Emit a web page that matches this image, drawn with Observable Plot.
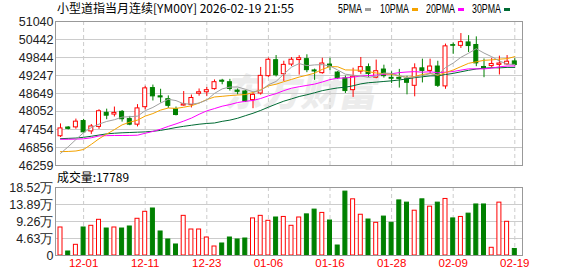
<!DOCTYPE html>
<html><head><meta charset="utf-8">
<script src="https://cdn.jsdelivr.net/npm/d3@7"></script>
<script src="https://cdn.jsdelivr.net/npm/@observablehq/plot@0.6"></script>
<style>
html,body{margin:0;padding:0;background:#fff;}
#wrap{position:relative;width:578px;height:276px;overflow:hidden;background:#fff;}
#wrap > svg{position:absolute;left:0;top:0;}
</style></head><body><div id="wrap"></div>
<script>
const dates = ["11-26","11-27","11-28","12-01","12-02","12-03","12-04","12-05","12-08","12-09",
"12-10","12-11","12-12","12-15","12-16","12-17","12-18","12-19","12-22","12-23",
"12-24","12-26","12-29","12-30","12-31","01-02","01-05","01-06","01-07","01-08",
"01-09","01-12","01-13","01-14","01-15","01-16","01-19","01-20","01-21","01-22",
"01-23","01-26","01-27","01-28","01-29","01-30","02-02","02-03","02-04","02-05",
"02-06","02-09","02-10","02-11","02-12","02-13","02-16","02-17","02-18","02-19"];
const opens = [47230,47520,47525,47735,47390,47540,48008,47950,48040,47800,
47615,48195,48830,48555,48460,48125,48250,48270,48640,48690,
48795,49075,49025,48745,48715,48430,48650,49225,49755,49290,
49610,49760,49790,49415,49325,49610,49345,49150,48760,49375,
49525,49175,49445,49170,49170,49120,48905,49485,49400,49545,
48885,50255,50232,50345,50260,49530,49560,49600,49615,49715];
const highs = [47640,47550,47800,47790,47620,48110,48130,48200,48085,47890,
48280,48890,48930,48790,48570,48200,48715,48600,48800,48850,
49100,49120,49120,48800,48755,48660,49515,49825,49910,49720,
49840,49905,49935,49460,49820,49820,49380,49230,49490,49845,
49630,49760,49590,49370,49450,49220,49635,49790,49790,49720,
50290,50325,50640,50570,50530,49795,49815,49890,49910,49805];
const lows = [47190,47440,47465,47330,47290,47460,47780,47870,47700,47580,
47540,48100,48400,48335,48155,47905,48230,48170,48560,48545,
48760,48940,48730,48605,48355,48145,48595,49185,49200,49050,
49545,49260,49340,49085,49290,49410,49115,48650,48520,49285,
49185,49140,49160,48980,48830,48605,48540,49000,49275,48850,
48790,49950,50145,50010,49540,49175,49500,49265,49580,49560];
const closes = [47490,47475,47715,47360,47555,48060,47913,48005,47795,47615,
48155,48820,48555,48520,48240,47935,48290,48500,48690,48760,
49025,49040,48800,48705,48385,48605,49235,49770,49255,49600,
49770,49820,49425,49380,49645,49540,49160,48730,49205,49525,
49300,49390,49225,49140,49135,49005,49485,49400,49545,48905,
50215,50235,50355,50225,49650,49495,49630,49645,49705,49595];
// volume in 万 (10k contracts)
const volumes = [7.63,1.09,2.91,7.63,8.09,9.72,7.35,7.63,7.35,7.90,
10.0,11.9,12.8,6.54,4.36,3.00,10.8,7.08,7.08,4.90,
2.45,3.27,4.90,4.36,4.63,10.1,10.8,9.45,10.35,10.5,
8.09,10.35,11.2,12.5,11.6,9.53,2.72,17.4,15.3,11.1,
9.8,8.9,10.6,8.9,15.0,14.4,12.2,15.3,13.3,14.4,
15.4,10.1,10.5,11.4,13.9,13.9,2.10,14.4,9.18,1.7789];
const ma5 = [46660,46880,47120,47350,47519,47633,47721,47779,47866,47878,
47897,48078,48188,48333,48458,48414,48308,48297,48331,48435,
48653,48803,48863,48866,48791,48707,48746,48940,49050,49293,
49526,49643,49574,49599,49608,49562,49430,49291,49256,49232,
49184,49230,49329,49316,49238,49179,49198,49233,49314,49268,
49510,49660,49851,49987,50136,49992,49871,49729,49625,49614];
const ma10 = [46720,46725,46740,46790,46960,47147,47301,47450,47608,47698,
47765,47899,47983,48099,48168,48155,48194,48243,48333,48447,
48534,48556,48581,48599,48614,48681,48775,48902,48958,49042,
49117,49195,49257,49325,49451,49544,49537,49432,49428,49420,
49373,49330,49310,49286,49235,49182,49214,49281,49315,49253,
49345,49429,49542,49651,49702,49751,49766,49790,49806,49875];
const ma20 = [47130,47130,47135,47145,47180,47240,47250,47255,47255,47258,
47265,47330,47390,47465,47558,47641,47733,47832,47960,48073,
48149,48228,48282,48349,48391,48418,48484,48572,48645,48745,
48825,48875,48919,48962,49032,49112,49156,49167,49193,49231,
49245,49262,49284,49305,49343,49363,49375,49357,49371,49337,
49359,49380,49426,49468,49469,49466,49490,49536,49561,49564];
const ma30 = [47150,47160,47170,47195,47230,47270,47310,47330,47345,47355,
47365,47375,47395,47425,47470,47520,47560,47595,47630,47655,
47671,47725,47766,47828,47912,47993,48088,48196,48298,48395,
48471,48550,48607,48674,48744,48793,48835,48859,48906,48969,
49008,49027,49049,49070,49099,49135,49176,49205,49234,49238,
49278,49318,49370,49420,49463,49492,49505,49501,49516,49516];
const priceTicks = [46259,46856,47454,48052,48649,49247,49844,50442,51040];
const volTicks = [0,4.63,9.26,13.89,18.52];
const dateTicks = ["12-01","12-11","12-23","01-06","01-16","01-28","02-09","02-19"];
const titleText = "小型道指当月连续[YM00Y] 2026-02-19 21:55";
const legendNames = ["5PMA","10PMA","20PMA","30PMA"];
const legendColors = ["#a0a0a0","#f5a300","#ff00ff","#006a33"];

const W = 578, H = 276;
const RED = "#ff0000", GREEN = "#008000";
const FONT = "'Liberation Sans', Arial, sans-serif";
const CJK = "'Noto Sans CJK SC', sans-serif";

const rows = dates.map((d, i) => ({date: d, open: opens[i], high: highs[i], low: lows[i], close: closes[i],
  vol: volumes[i], ma5: ma5[i], ma10: ma10[i], ma20: ma20[i], ma30: ma30[i], up: closes[i] >= opens[i]}));
const ups = rows.filter(d => d.up), downs = rows.filter(d => !d.up);
const xOpt = () => ({type: "band", domain: dates, range: [56.15, 518.15], padding: 0, axis: null});
const wrap = document.getElementById("wrap");

// background watermark
const bg = d3.create("svg").attr("width", W).attr("height", H);
bg.append("g").attr("transform", "translate(300,106) skewX(-12)")
  .append("text").attr("text-anchor", "middle").attr("font-family", CJK).attr("font-weight", 900)
  .attr("font-size", 38).attr("fill", "#ececec").text("东方财富");
wrap.appendChild(bg.node());

const main = Plot.plot({
  width: W, height: H,
  marginTop: 21, marginBottom: 111, marginLeft: 55, marginRight: 56,
  style: {background: "transparent", fontFamily: FONT, fontSize: "12.5px", color: "#222"},
  x: xOpt(),
  y: {domain: [46259, 51040], ticks: priceTicks, tickSize: 0, tickPadding: 2, tickFormat: d => String(d), label: null},
  marks: [
    Plot.ruleY(priceTicks.slice(1, -1), {stroke: "#cccccc"}),
    Plot.ruleX(dateTicks, {stroke: "#cccccc", strokeDasharray: "4,3"}),
    Plot.ruleX(rows, {x: "date", y1: "low", y2: "high", stroke: d => d.up ? RED : GREEN}),
    Plot.barY(downs, {x: "date", y1: "open", y2: "close", fill: GREEN, stroke: GREEN, insetLeft: 1.85, insetRight: 1.85}),
    Plot.barY(ups, {x: "date", y1: "open", y2: "close", fill: "white", stroke: RED, insetLeft: 1.85, insetRight: 1.85}),
    Plot.lineY(rows, {x: "date", y: "ma30", stroke: legendColors[3], strokeWidth: 1}),
    Plot.lineY(rows, {x: "date", y: "ma20", stroke: legendColors[2], strokeWidth: 1}),
    Plot.lineY(rows, {x: "date", y: "ma10", stroke: legendColors[1], strokeWidth: 1}),
    Plot.lineY(rows, {x: "date", y: "ma5", stroke: legendColors[0], strokeWidth: 1}),
    Plot.frame({stroke: "#999999"})
  ]
});
wrap.appendChild(main);

const vol = Plot.plot({
  width: W, height: H,
  marginTop: 187, marginBottom: 21, marginLeft: 55, marginRight: 56,
  style: {background: "transparent", fontFamily: FONT, fontSize: "12.5px", color: "#222"},
  x: xOpt(),
  y: {domain: [0, 18.52], ticks: volTicks, tickSize: 0, tickPadding: 2, tickFormat: d => d === 0 ? "0" : d.toFixed(2) + "万", label: null},
  marks: [
    Plot.ruleY(volTicks.slice(1, -1), {stroke: "#cccccc"}),
    Plot.ruleX(dateTicks, {stroke: "#cccccc", strokeDasharray: "4,3"}),
    Plot.barY(downs, {x: "date", y: "vol", fill: GREEN, stroke: GREEN, insetLeft: 1.85, insetRight: 1.85}),
    Plot.barY(ups, {x: "date", y: "vol", fill: "white", stroke: RED, insetLeft: 1.85, insetRight: 1.85}),
    Plot.text(dateTicks, {x: d => d, frameAnchor: "bottom", dy: 11, fill: RED, fontSize: 11.5, fontFamily: FONT}),
    Plot.frame({stroke: "#999999"})
  ]
});
wrap.appendChild(vol);

// overlay: title, legend, volume label
const ov = d3.create("svg").attr("width", W).attr("height", H);
ov.append("text").attr("x", 57).attr("y", 13).attr("font-family", CJK).attr("font-size", 12).attr("fill", "#000")
  .attr("textLength", 237).attr("lengthAdjust", "spacingAndGlyphs").text(titleText);
const lgX = [338, 380, 426, 472], lgW = [24, 29, 29, 29];
legendNames.forEach((n, k) => {
  ov.append("text").attr("x", lgX[k]).attr("y", 13).attr("font-family", FONT).attr("font-size", 12).attr("fill", "#000")
    .attr("textLength", lgW[k]).attr("lengthAdjust", "spacingAndGlyphs").text(n);
  ov.append("rect").attr("x", lgX[k] + lgW[k] + 3).attr("y", 8).attr("width", 6).attr("height", 3).attr("fill", legendColors[k]);
});
ov.append("text").attr("x", 57).attr("y", 182).attr("font-family", CJK).attr("font-size", 12).attr("fill", "#000")
  .attr("textLength", 72).attr("lengthAdjust", "spacingAndGlyphs").text("成交量:" + Math.round(volumes[volumes.length - 1] * 10000));
wrap.appendChild(ov.node());
</script></body></html>
